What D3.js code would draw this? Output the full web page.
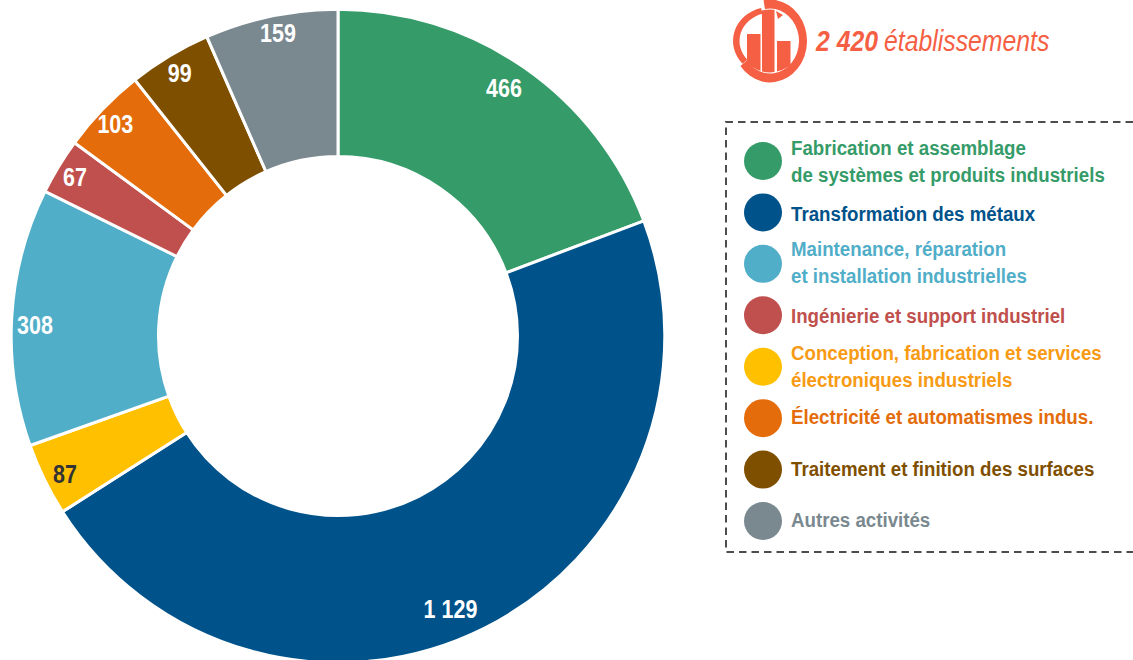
<!DOCTYPE html>
<html>
<head>
<meta charset="utf-8">
<title>Établissements</title>
<script src="https://d3js.org/d3.v7.min.js"></script>
<style>
  html, body { margin: 0; padding: 0; background: #fff; overflow: hidden; }
  svg { display: block; }
  text { font-family: "Liberation Sans", Arial, sans-serif; font-weight: bold; }
</style>
</head>
<body>
<div id="chart"></div>
<script>
var values = [466, 1129, 87, 308, 67, 103, 99, 159];
var valueLabels = ["466", "1 129", "87", "308", "67", "103", "99", "159"];
var colors = ["#359B69", "#00528A", "#FFC000", "#51AEC8", "#C0504D", "#E46C0A", "#7F4F00", "#7A8890"];
var labelColors = ["#fff", "#fff", "#333", "#fff", "#fff", "#fff", "#fff", "#fff"];

// legend order is not the slice order
var legendNames = [
  ["Fabrication et assemblage", "de systèmes et produits industriels"],
  ["Transformation des métaux"],
  ["Maintenance, réparation", "et installation industrielles"],
  ["Ingénierie et support industriel"],
  ["Conception, fabrication et services", "électroniques industriels"],
  ["Électricité et automatismes indus."],
  ["Traitement et finition des surfaces"],
  ["Autres activités"]
];
var legendColors = ["#359B69", "#00528A", "#51AEC8", "#C0504D", "#FFC000", "#E46C0A", "#7F4F00", "#7A8890"];
var legendTextColors = ["#359B69", "#00528A", "#51AEC8", "#C0504D", "#F79A14", "#E46C0A", "#7F4F00", "#7A8890"];
var totalBold = "2 420";
var totalText = "établissements";

var width = 1133, height = 660;
var cx = 338, cy = 336, outer = 326.8, inner = 179.5;

var svg = d3.select("#chart").append("svg")
  .attr("width", width)
  .attr("height", height);

// donut
var pie = d3.pie().sort(null).value(function(d) { return d; });
var arc = d3.arc().innerRadius(inner).outerRadius(outer);
var labelArc = d3.arc().innerRadius(305).outerRadius(305);
var slices = pie(values);

var donut = svg.append("g").attr("transform", "translate(" + cx + "," + cy + ")");

donut.selectAll("path")
    .data(slices)
  .enter().append("path")
    .attr("d", arc)
    .attr("fill", function(d, i) { return colors[i]; })
    .attr("stroke", "#fff")
    .attr("stroke-width", 3);

// labels were placed by hand in the original, so they drift off the slice middle
var labelNudge = [[-7.6, 2.8], [-24, 0], [1, 4], [1.5, 7], [-2.4, -0.7], [-3, -0.5], [-1, -1.5], [2.6, -4.5]];

donut.selectAll("text")
    .data(slices)
  .enter().append("text")
    .attr("transform", function(d, i) {
      var c = labelArc.centroid(d), n = labelNudge[i];
      return "translate(" + (c[0] + n[0]) + "," + (c[1] + n[1]) + ") scale(0.86,1)";
    })
    .attr("text-anchor", "middle")
    .attr("dy", "0.35em")
    .attr("font-size", 25)
    .attr("fill", function(d, i) { return labelColors[i]; })
    .text(function(d, i) { return valueLabels[i]; });

// icon next to the total
var accent = "#F55F43";
var icon = svg.append("g").attr("transform", "translate(770,41)");
var deg = Math.PI / 180;

icon.append("clipPath").attr("id", "iconClip")
  .append("circle").attr("r", 31.5);

// thick swoosh, top round to lower left
icon.append("path")
  .attr("transform", "scale(1,1.12)")
  .attr("d", d3.arc().innerRadius(29).outerRadius(37).startAngle(-10 * deg).endAngle(233 * deg)())
  .attr("fill", accent);
// thin part on the left
icon.append("path")
  .attr("transform", "scale(1,0.92)")
  .attr("d", d3.arc().innerRadius(30.5).outerRadius(37).startAngle(228 * deg).endAngle(346 * deg)())
  .attr("fill", accent);

var iconBars = [[-23, -7, 13.5, 40], [-8, -33, 12.5, 70], [7, 0, 13.5, 40]];
icon.append("g").attr("clip-path", "url(#iconClip)")
  .selectAll("rect")
    .data(iconBars)
  .enter().append("rect")
    .attr("x", function(d) { return d[0]; })
    .attr("y", function(d) { return d[1]; })
    .attr("width", function(d) { return d[2]; })
    .attr("height", function(d) { return d[3]; })
    .attr("fill", accent);

icon.append("path").attr("d", "M6,-30L13,-26L8,-22Z").attr("fill", accent);

var total = svg.append("text")
  .attr("transform", "translate(816,51) scale(0.855,1)")
  .attr("font-size", 29)
  .attr("font-style", "italic")
  .attr("fill", accent);
total.append("tspan").text(totalBold);
total.append("tspan").attr("font-weight", "normal").attr("dx", 7).text(totalText);

// legend
svg.append("path")
  .attr("d", "M1133,122H726V552H1133")
  .attr("fill", "none")
  .attr("stroke", "#4d4d4d")
  .attr("stroke-width", 2)
  .attr("stroke-dasharray", "7.5,5");

var legendY = d3.scalePoint().domain(d3.range(legendNames.length)).range([161, 521]);
var lineGap = 27;
var textShift = [0, 2, -1, 1, 0, -1, -1, -1];

var legend = svg.selectAll(".legend")
    .data(legendNames)
  .enter().append("g")
    .attr("class", "legend")
    .attr("transform", function(d, i) { return "translate(0," + legendY(i) + ")"; });

legend.append("circle")
  .attr("cx", 763)
  .attr("r", 19)
  .attr("fill", function(d, i) { return legendColors[i]; });

legend.each(function(lines, i) {
  var g = d3.select(this);
  lines.forEach(function(line, j) {
    var dy = (j - (lines.length - 1) / 2) * lineGap + textShift[i];
    g.append("text")
      .attr("transform", "translate(791," + (dy + 7) + ") scale(0.891,1)")
      .attr("font-size", 21)
      .attr("fill", legendTextColors[i])
      .text(line);
  });
});
</script>
</body>
</html>
